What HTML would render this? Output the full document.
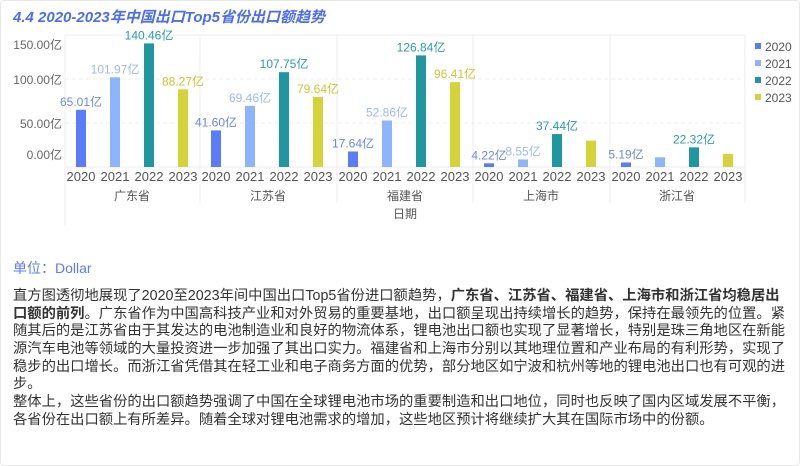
<!DOCTYPE html>
<html><head><meta charset="utf-8"><style>
body{margin:0;width:800px;height:466px;background:#fff;overflow:hidden;font-family:"Liberation Sans","Noto Sans CJK SC",sans-serif;position:relative}
.t{position:absolute;white-space:nowrap}
.txt div{height:17.7px;line-height:17.7px;font-size:14.3px;color:#333;white-space:nowrap}
</style></head><body>
<div style="position:absolute;left:0;top:0;width:798px;height:464px;border:1px solid #e8e8e8;border-radius:4px"></div>
<div class="t" style="left:13px;top:6px;font-size:15px;font-weight:bold;font-style:italic;color:#4a6cf7">4.4 2020-2023年中国出口Top5省份出口额趋势</div>
<svg width="800" height="230" style="position:absolute;left:0;top:0" font-family="Liberation Sans, Noto Sans CJK SC, sans-serif">
<g stroke="#eee" stroke-dasharray="4,3"><line x1="65" x2="745" y1="79" y2="79"/><line x1="65" x2="745" y1="123" y2="123"/></g>
<g stroke="#eee"><line x1="65" x2="745" y1="35" y2="35"/><line x1="65" x2="745" y1="167" y2="167"/>
<line x1="65" x2="65" y1="35" y2="225"/><line x1="200" x2="200" y1="35" y2="203"/><line x1="337" x2="337" y1="35" y2="203"/><line x1="473" x2="473" y1="35" y2="203"/><line x1="610" x2="610" y1="35" y2="203"/><line x1="745" x2="745" y1="35" y2="203"/></g>
<g font-size="12" fill="#666" text-anchor="end"><text x="62" y="49">150.00亿</text><text x="62" y="84">100.00亿</text><text x="62" y="128">50.00亿</text><text x="62" y="159">0.00亿</text></g>
<g id="bars"></g>
<g font-size="13" fill="#555" text-anchor="middle" id="xl"></g>
<g font-size="12" fill="#555" text-anchor="middle"><text x="132" y="200">广东省</text><text x="268" y="200">江苏省</text><text x="405" y="200">福建省</text><text x="541" y="200">上海市</text><text x="677" y="200">浙江省</text><text x="405" y="218">日期</text></g>
<g font-size="12" fill="#555"><rect x="755" y="43" width="6" height="6" fill="#5b7cfa"/><text x="765" y="51">2020</text><rect x="755" y="60" width="6" height="6" fill="#8fb4ff"/><text x="765" y="68">2021</text><rect x="755" y="77" width="6" height="6" fill="#1e97a0"/><text x="765" y="85">2022</text><rect x="755" y="94" width="6" height="6" fill="#d4d43a"/><text x="765" y="102">2023</text></g>
</svg>
<script>
var d=[[65.01,101.97,140.46,88.27],[41.60,69.46,107.75,79.64],[17.64,52.86,126.84,96.41],[4.22,8.55,37.44,30],[5.19,11,22.32,15]];
var show=[[1,1,1,1],[1,1,1,1],[1,1,1,1],[1,1,1,0],[1,0,1,0]];
var c=["#5b7cfa","#8fb4ff","#1e97a0","#d4d43a"],lc=["#6b86f5","#9db8f8","#2a9ea6","#c9c92e"];
var starts=[65,200,337,473,610],off=[16,50,84,118],s="",x="";
for(var g=0;g<5;g++)for(var i=0;i<4;i++){var cx=starts[g]+off[i],h=d[g][i]*0.88,y=167-h;
s+='<rect x="'+(cx-5)+'" y="'+y+'" width="10" height="'+h+'" fill="'+c[i]+'"/>';
if(show[g][i])s+='<text x="'+cx+'" y="'+(y-4)+'" font-size="12" text-anchor="middle" fill="'+lc[i]+'">'+d[g][i].toFixed(2)+'亿</text>';
x+='<text x="'+cx+'" y="181">'+(2020+i)+'</text>';}
document.getElementById('bars').innerHTML=s;document.getElementById('xl').innerHTML=x;
</script>
<div class="t" style="left:13px;top:258px;font-size:14px;color:#5b7cfa">单位：Dollar</div>
<div class="txt" style="position:absolute;left:13px;top:288px">
<div>直方图透彻地展现了2020至2023年间中国出口Top5省份进口额趋势，<b>广东省、江苏省、福建省、上海市和浙江省均稳居出</b></div>
<div><b>口额的前列</b>。广东省作为中国高科技产业和对外贸易的重要基地，出口额呈现出持续增长的趋势，保持在最领先的位置。紧</div>
<div>随其后的是江苏省由于其发达的电池制造业和良好的物流体系，锂电池出口额也实现了显著增长，特别是珠三角地区在新能</div>
<div>源汽车电池等领域的大量投资进一步加强了其出口实力。福建省和上海市分别以其地理位置和产业布局的有利形势，实现了</div>
<div>稳步的出口增长。而浙江省凭借其在轻工业和电子商务方面的优势，部分地区如宁波和杭州等地的锂电池出口也有可观的进</div>
<div>步。</div>
<div>整体上，这些省份的出口额趋势强调了中国在全球锂电池市场的重要制造和出口地位，同时也反映了国内区域发展不平衡，</div>
<div>各省份在出口额上有所差异。随着全球对锂电池需求的增加，这些地区预计将继续扩大其在国际市场中的份额。</div>
</div>
</body></html>
